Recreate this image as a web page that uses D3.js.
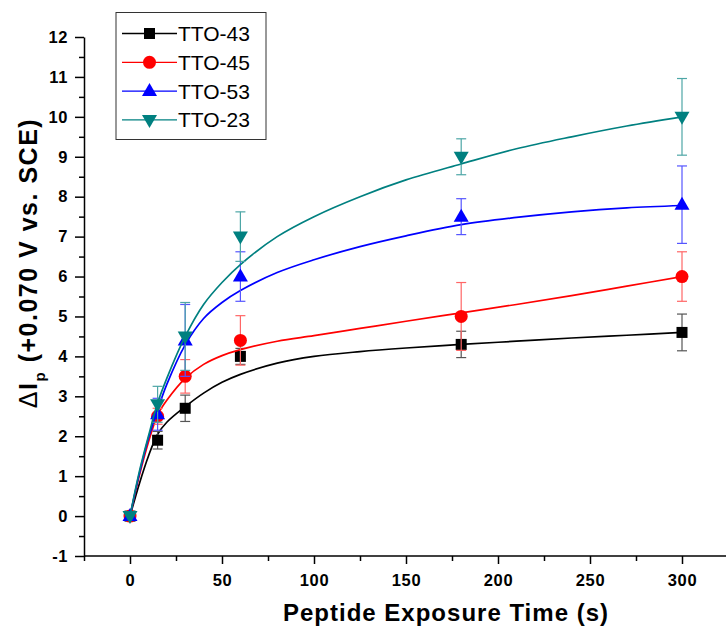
<!DOCTYPE html>
<html>
<head>
  <meta charset="utf-8">
  <style>
    body { margin: 0; background: #fff; }
    svg { display: block; background: #fff; }
    .tick text { font-family: "Liberation Sans", Arial, sans-serif; font-weight: bold; font-size: 16.5px; letter-spacing: 0.6px; fill: #000; }
  </style>
</head>
<body>
  <div id="chart"></div>
  <script src="https://d3js.org/d3.v7.min.js"></script>
  <script>
    // measured points (time in s)
    var times = [0, 15, 30, 60, 180, 300];
    var tto43 = [0, 1.9, 2.7, 4.0, 4.3, 4.6];
    var err43 = [0, 0.22, 0.33, 0.2, 0.33, 0.46];
    var tto45 = [0, 2.5, 3.5, 4.4, 5.0, 6.0];
    var err45 = [0, 0.2, 0.42, 0.62, 0.85, 0.62];
    var tto53 = [0, 2.55, 4.4, 6.0, 7.5, 7.8];
    var err53 = [0, 0.4, 0.9, 0.62, 0.45, 0.97];
    var tto23 = [0, 2.8, 4.5, 7.0, 9.0, 10.0];
    var err23 = [0, 0.45, 0.85, 0.62, 0.45, 0.96];

    // fitted curves
    var fitTimes = [0, 5, 10, 15, 20, 30, 40, 50, 60, 80, 100, 125, 150, 180, 210, 240, 270, 300];
    var fit43 = [0, 0.8, 1.5, 2.05, 2.35, 2.74, 3.08, 3.35, 3.55, 3.83, 4.0, 4.12, 4.21, 4.3, 4.38, 4.46, 4.53, 4.6];
    var fit45 = [0, 1.0, 1.85, 2.53, 2.9, 3.45, 3.8, 4.02, 4.17, 4.38, 4.52, 4.7, 4.88, 5.09, 5.3, 5.52, 5.76, 6.0];
    var fit53 = [0, 1.05, 1.95, 2.66, 3.3, 4.29, 4.95, 5.35, 5.65, 6.1, 6.42, 6.75, 7.02, 7.3, 7.48, 7.62, 7.72, 7.78];
    var fit23 = [0, 1.1, 2.0, 2.83, 3.45, 4.5, 5.3, 5.85, 6.3, 7.0, 7.5, 8.0, 8.42, 8.82, 9.2, 9.5, 9.77, 10.0];

    var xMajor = [0, 50, 100, 150, 200, 250, 300];
    var xMinor = [-25, 25, 75, 125, 175, 225, 275, 325];
    var yMajor = [-1, 0, 1, 2, 3, 4, 5, 6, 7, 8, 9, 10, 11, 12];
    var yMinor = [-0.5, 0.5, 1.5, 2.5, 3.5, 4.5, 5.5, 6.5, 7.5, 8.5, 9.5, 10.5, 11.5];

    var names = ["TTO-43", "TTO-45", "TTO-53", "TTO-23"];
    var colors = ["#000000", "#ff0000", "#0000ff", "#008080"];
    var errColors = ["#555555", "#ff6666", "#5555ff", "#4da6a6"];
    var shapes = ["square", "circle", "up", "down"];

    var series = [
      {vals: tto43, err: err43, fit: fit43},
      {vals: tto45, err: err45, fit: fit45},
      {vals: tto53, err: err53, fit: fit53},
      {vals: tto23, err: err23, fit: fit23}
    ];

    var W = 726, H = 629;
    var svg = d3.select("#chart").append("svg").attr("width", W).attr("height", H);

    var x = d3.scaleLinear().domain([-25, 325]).range([84, 728]);
    var y = d3.scaleLinear().domain([-1, 12]).range([556, 37]);
    var fmt = function (d) { return String(d); };

    // axes
    svg.append("g")
        .attr("transform", "translate(0," + y(-1) + ")")
        .call(d3.axisBottom(x).tickValues(xMinor).tickSize(5).tickFormat(""))
        .call(g => g.select(".domain").remove())
        .selectAll("line").attr("stroke-width", 1.5);
    var gx = svg.append("g")
        .attr("transform", "translate(0," + y(-1) + ")")
        .call(d3.axisBottom(x).tickValues(xMajor).tickFormat(fmt).tickSize(8).tickSizeOuter(0).tickPadding(10));
    gx.select(".domain").attr("stroke-width", 1.5).attr("d", "M" + x(-25) + ",0H" + W);
    gx.selectAll("line").attr("stroke-width", 1.5);

    svg.append("g")
        .attr("transform", "translate(" + x(-25) + ",0)")
        .call(d3.axisLeft(y).tickValues(yMinor).tickSize(5).tickFormat(""))
        .call(g => g.select(".domain").remove())
        .selectAll("line").attr("stroke-width", 1.5);
    var gy = svg.append("g")
        .attr("transform", "translate(" + x(-25) + ",0)")
        .call(d3.axisLeft(y).tickValues(yMajor).tickFormat(fmt).tickSize(9).tickSizeOuter(0).tickPadding(7));
    gy.select(".domain").attr("stroke-width", 1.5);
    gy.selectAll("line").attr("stroke-width", 1.5);

    // axis titles
    svg.append("text")
        .attr("x", 446).attr("y", 621)
        .attr("text-anchor", "middle")
        .style("font-family", "Liberation Sans, Arial, sans-serif")
        .style("font-weight", "bold").style("font-size", "24px")
        .style("letter-spacing", "1px")
        .text("Peptide Exposure Time (s)");

    var yt = svg.append("text")
        .attr("transform", "translate(37,263) rotate(-90)")
        .attr("text-anchor", "middle")
        .style("font-family", "Liberation Sans, Arial, sans-serif")
        .style("font-weight", "bold").style("font-size", "25px")
        .style("letter-spacing", "1.5px");
    yt.append("tspan").style("font-weight", "normal").text("\u0394");
    yt.append("tspan").text("I");
    yt.append("tspan").attr("dy", 8).style("font-size", "15px").text("p");
    yt.append("tspan").attr("dy", -8).text(" (+0.070 V vs. SCE)");

    function marker(sel, shape, color) {
      if (shape === "square") {
        sel.append("rect").attr("x", -5.5).attr("y", -5.5).attr("width", 11).attr("height", 11).attr("fill", color);
      } else if (shape === "circle") {
        sel.append("circle").attr("r", 6.5).attr("fill", color);
      } else if (shape === "up") {
        sel.append("path").attr("d", "M0,-8L7.5,5L-7.5,5Z").attr("fill", color);
      } else {
        sel.append("path").attr("d", "M0,8L7.5,-5L-7.5,-5Z").attr("fill", color);
      }
    }

    var line = d3.line().curve(d3.curveCatmullRom.alpha(0.5))
        .x(function (d) { return x(d[0]); })
        .y(function (d) { return y(d[1]); });

    series.forEach(function (s, i) {
      var g = svg.append("g");
      // fitted curve
      g.append("path")
          .datum(fitTimes.map(function (t, k) { return [t, s.fit[k]]; }))
          .attr("d", line)
          .attr("fill", "none")
          .attr("stroke", colors[i])
          .attr("stroke-width", 1.7);

      var pts = times.map(function (t, k) { return {t: t, v: s.vals[k], e: s.err[k]}; });
      // error bars
      var eb = g.selectAll(".eb").data(pts.filter(function (d) { return d.e > 0; })).enter().append("g")
          .attr("stroke", errColors[i]).attr("stroke-width", 1.2);
      eb.append("line")
          .attr("x1", function (d) { return x(d.t); }).attr("x2", function (d) { return x(d.t); })
          .attr("y1", function (d) { return y(d.v + d.e); }).attr("y2", function (d) { return y(d.v - d.e); });
      eb.append("line")
          .attr("x1", function (d) { return x(d.t) - 5; }).attr("x2", function (d) { return x(d.t) + 5; })
          .attr("y1", function (d) { return y(d.v + d.e); }).attr("y2", function (d) { return y(d.v + d.e); });
      eb.append("line")
          .attr("x1", function (d) { return x(d.t) - 5; }).attr("x2", function (d) { return x(d.t) + 5; })
          .attr("y1", function (d) { return y(d.v - d.e); }).attr("y2", function (d) { return y(d.v - d.e); });

      // markers
      g.selectAll(".m").data(pts).enter().append("g")
          .attr("transform", function (d) { return "translate(" + x(d.t) + "," + y(d.v) + ")"; })
          .each(function () { marker(d3.select(this), shapes[i], colors[i]); });
    });

    // legend
    var lg = svg.append("g");
    lg.append("rect").attr("x", 116).attr("y", 12.5).attr("width", 150).attr("height", 127)
        .attr("fill", "#fff").attr("stroke", "#333").attr("stroke-width", 1);
    names.forEach(function (n, i) {
      var yy = 33.5 + i * 28.8;
      lg.append("line").attr("x1", 122).attr("x2", 177).attr("y1", yy).attr("y2", yy)
          .attr("stroke", colors[i]).attr("stroke-width", 1.3);
      var m = lg.append("g").attr("transform", "translate(149.5," + yy + ")");
      marker(m, shapes[i], colors[i]);
      lg.append("text").attr("x", 178).attr("y", yy + 7.5)
          .style("font-family", "Liberation Sans, Arial, sans-serif")
          .style("font-size", "21px")
          .text(n);
    });
  </script>
</body>
</html>
